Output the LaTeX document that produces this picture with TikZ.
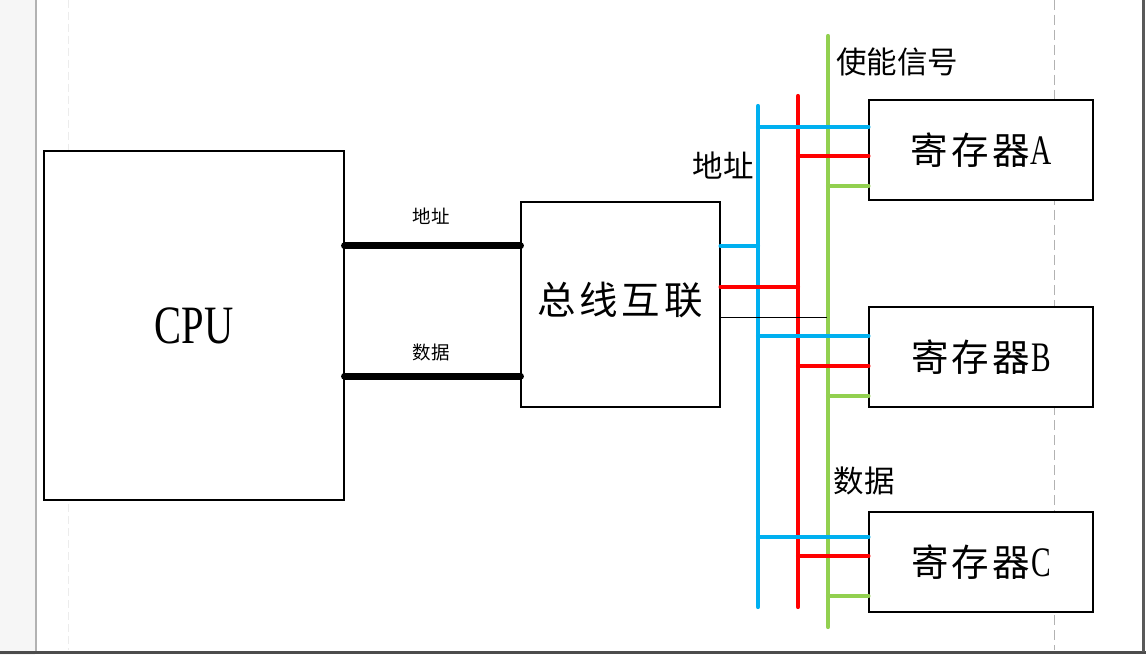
\documentclass[tikz,border=0pt]{standalone}
\usepackage{fontspec}
\usepackage{graphicx}
\setmainfont{Liberation Serif}
\newfontfamily\cjk{Noto Sans CJK SC}
\newcommand\narrowlat[1]{\hspace{1pt}\scalebox{0.7}[1]{\rmfamily\fontsize{42}{44}\selectfont #1}}
\definecolor{busblue}{HTML}{00B0F0}
\definecolor{busred}{HTML}{FF0000}
\definecolor{busgreen}{HTML}{92D050}
\tikzset{
  boxnode/.style={draw=black, line width=1.1pt, fill=white, inner sep=0pt},
  bigtxt/.style={font=\cjk\fontsize{37.5}{40}\selectfont\addfontfeature{LetterSpace=9}},
  bustext/.style={font=\cjk\fontsize{38.5}{40}\selectfont\addfontfeature{LetterSpace=10}},
  midtxt/.style={font=\cjk\fontsize{30.5}{34}\selectfont},
  smalltxt/.style={font=\cjk\fontsize{18.5}{20}\selectfont},
  bline/.style={draw=busblue, line width=4.2pt, line cap=round},
  rline/.style={draw=busred, line width=4.2pt, line cap=round},
  gline/.style={draw=busgreen, line width=4.2pt, line cap=round},
  kline/.style={draw=black, line width=7pt, line cap=round},
  thinline/.style={draw=black, line width=0.8pt},
}
\begin{document}
\begin{tikzpicture}[x=1pt, y=-1pt]
\useasboundingbox (0,0) rectangle (1146,655);
% window frame
\fill[white] (0,0) rectangle (1146,655);
\fill[gray!7] (0,0) rectangle (35,655);
\draw[color=gray!60, line width=1.5pt] (36,0) -- (36,651);
\draw[color=black!70, line width=3pt] (0,652) -- (1146,652);
\draw[color=black!65, line width=3pt] (1143.5,0) -- (1143.5,652);
\draw[color=gray!15, line width=0.8pt, dash pattern=on 8pt off 4pt] (68,0) -- (68,650);
\draw[color=gray!60, line width=0.8pt, dash pattern=on 10pt off 5pt] (1054,0) -- (1054,650);

% boxes
\node[boxnode, minimum width=300pt, minimum height=349pt] (cpu) at (194,325.5) {};
\node[font=\rmfamily\fontsize{54}{56}\selectfont, xscale=0.75] (cputxt) at (cpu.center) {CPU};
\node[boxnode, minimum width=199pt, minimum height=205pt] (bus) at (620.5,304.5) {};
\node[bustext] (bustxt) at (620,300) {总线互联};
\node[boxnode, minimum width=224pt, minimum height=100pt] (regA) at (981,150) {};
\node[boxnode, minimum width=224pt, minimum height=100pt] (regB) at (981,357) {};
\node[boxnode, minimum width=224pt, minimum height=100pt] (regC) at (981,562) {};
\node[bigtxt] (regAtxt) at (regA.center) {寄存器\narrowlat{A}};
\node[bigtxt] (regBtxt) at (regB.center) {寄存器\narrowlat{B}};
\node[bigtxt] (regCtxt) at (regC.center) {寄存器\narrowlat{C}};

% CPU <-> bus
\coordinate (addr) at (431,246);
\coordinate (data) at (431,376);
\draw[kline] (addr -| cpu.east) -- (addr -| bus.west);
\draw[kline] (data -| cpu.east) -- (data -| bus.west);
\node[smalltxt] (addrlbl) at (431,216) {地址};
\node[smalltxt] (datalbl) at (431,352) {数据};

% bus lines
\coordinate (blueTop) at (758,106);
\coordinate (blueBot) at (758,607);
\coordinate (redTop) at (798,96);
\coordinate (redBot) at (798,607);
\coordinate (greenTop) at (828,36);
\coordinate (greenBot) at (828,627);
\draw[bline] (blueTop) -- (blueBot);
\draw[rline] (redTop) -- (redBot);
\draw[gline] (greenTop) -- (greenBot);

% bus stubs
\coordinate (bStub) at (758,246);
\coordinate (rStub) at (798,287);
\coordinate (kStub) at (827,317);
\draw[bline] (bStub -| bus.east) -- (bStub);
\draw[rline] (rStub -| bus.east) -- (rStub);
\draw[thinline] (kStub -| bus.east) -- (kStub);

% register branches
\coordinate (bA) at (758,127);
\coordinate (rA) at (798,156);
\coordinate (gA) at (828,186);
\coordinate (bB) at (758,336);
\coordinate (rB) at (798,366);
\coordinate (gB) at (828,396);
\coordinate (bC) at (758,537);
\coordinate (rC) at (798,556);
\coordinate (gC) at (828,596);
\draw[bline] (bA) -- (bA -| regA.west);
\draw[rline] (rA) -- (rA -| regA.west);
\draw[gline] (gA) -- (gA -| regA.west);
\draw[bline] (bB) -- (bB -| regB.west);
\draw[rline] (rB) -- (rB -| regB.west);
\draw[gline] (gB) -- (gB -| regB.west);
\draw[bline] (bC) -- (bC -| regC.west);
\draw[rline] (rC) -- (rC -| regC.west);
\draw[gline] (gC) -- (gC -| regC.west);

% labels
\node[midtxt] (enlbl) at (897,62) {使能信号};
\node[midtxt] (addrlbl2) at (723,166) {地址};
\node[midtxt] (datalbl2) at (864,481) {数据};
\end{tikzpicture}
\end{document}
